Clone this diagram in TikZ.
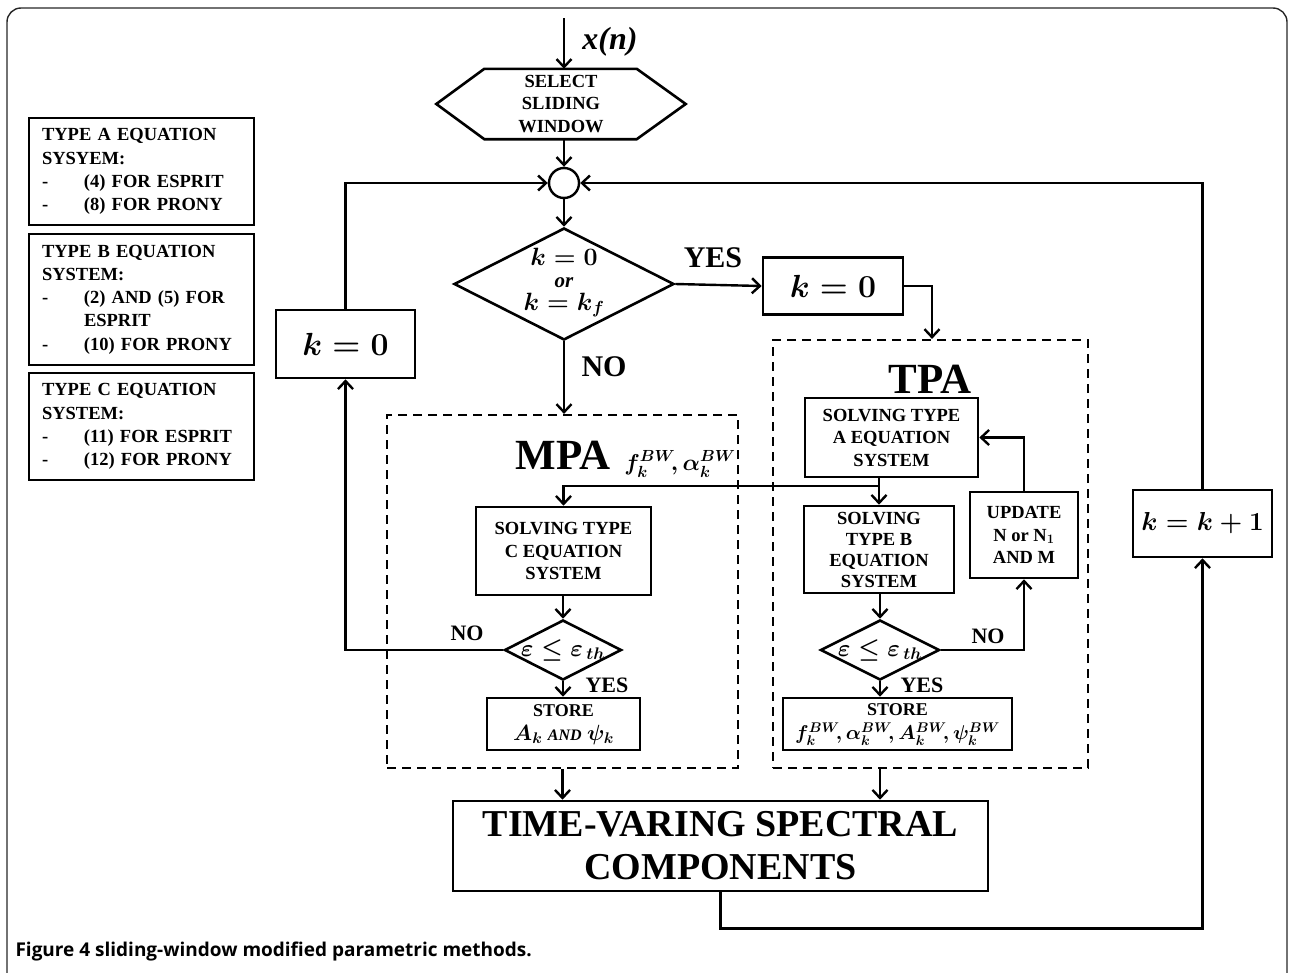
\RequirePackage{fix-cm}
\documentclass[tikz,border=0pt]{standalone}
\usepackage{amsmath,bm}
\usepackage{fontspec}
\setmainfont{Liberation Serif}
\newfontfamily\serifbi{Liberation Serif}[UprightFont=* Bold Italic]
\newfontfamily\capfont{Open Sans}
\usetikzlibrary{arrows.meta,shapes.geometric}

\newcommand{\dashitem}[1]{\makebox[42pt][l]{-}#1}

\begin{document}
\begin{tikzpicture}[x=1pt,y=-1pt,line width=2.4pt,
  blk/.style={draw,line width=2.6pt,inner sep=2pt,align=center,
    font=\fontsize{18.5}{22.5}\selectfont\bfseries\boldmath},
  kbox/.style={draw,line width=2.6pt,inner sep=2pt,
    font=\fontsize{32}{36}\selectfont\boldmath},
  dbox/.style={draw,dash pattern=on 9pt off 6pt,line width=2.2pt,inner sep=0pt},
  dia/.style={diamond,draw,inner sep=0pt,line width=2.6pt},
  arr/.style={-{Straight Barb[length=8pt,width=15pt]}},
  bigl/.style={font=\fontsize{30}{34}\selectfont\bfseries},
  midl/.style={font=\fontsize{22}{26}\selectfont\bfseries},
  title/.style={font=\fontsize{43}{48}\selectfont\bfseries},
  legend/.style={draw,line width=2pt,anchor=north west,align=left,
    text width=199pt,inner xsep=13pt,inner ysep=4pt,
    font=\fontsize{18.5}{23.3}\selectfont\bfseries},
  mathl/.style={font=\fontsize{24}{17}\selectfont\bfseries\boldmath,inner sep=0pt}]

\useasboundingbox (0,0) rectangle (1290,972);

% outer frame
\draw[line width=1.4pt,rounded corners=14pt,black!85] (7,980) -- (7,8) -- (1287,8) -- (1287,980);

% legend of the equation systems
\node[legend,minimum width=225pt,minimum height=107pt] (legA) at (28,117)
  {TYPE A EQUATION\\SYSYEM:\\\dashitem{(4) FOR ESPRIT}\\\dashitem{(8) FOR PRONY}};
\node[legend,minimum width=225pt,minimum height=131pt] (legB) at (28,233)
  {TYPE B EQUATION\\SYSTEM:\\\dashitem{(2) AND (5) FOR}\\\hspace*{42pt}ESPRIT\\\dashitem{(10) FOR PRONY}};
\node[legend,minimum width=225pt,minimum height=107pt] (legC) at (28,372)
  {TYPE C EQUATION\\SYSTEM:\\\dashitem{(11) FOR ESPRIT}\\\dashitem{(12) FOR PRONY}};

% input and window selection
\coordinate (xin) at (564,18);
\node[font=\fontsize{32}{34}\selectfont\serifbi] (xlab) at (610,42) {x(n)};
\node[inner sep=0pt,minimum width=247pt,minimum height=68pt,align=center,
  font=\fontsize{18.5}{22.5}\selectfont\bfseries] (sel) at (561,104)
  {SELECT\\SLIDING\\WINDOW};
\draw[line width=2.6pt] (sel.west) -- ([xshift=48pt]sel.north west) -- ([xshift=-49pt]sel.north east)
  -- (sel.east) -- ([xshift=-49pt]sel.south east) -- ([xshift=48pt]sel.south west) -- cycle;

% junction
\node[circle,draw,line width=2.4pt,minimum size=30pt,inner sep=0pt] (jn) at (564,183) {};

% first decision
\node[dia,minimum width=220pt,minimum height=112pt] (d1) at (564,284) {};
\node[mathl,font=\fontsize{25}{26}\selectfont\bfseries\boldmath] (d1a) at (564,257) {$k=0$};
\node[mathl,font=\fontsize{21}{22}\selectfont\serifbi] (d1b) at (564,283) {or};
\node[mathl,font=\fontsize{25}{26}\selectfont\bfseries\boldmath] (d1c) at (564,305) {$k=k_f$};
\node[bigl] (yes1) at (713,258) {YES};
\node[bigl] (no1) at (604,367) {NO};

% k = 0 boxes
\node[kbox,minimum width=140pt,minimum height=57pt] (kA) at (833,286) {$k=0$};
\node[kbox,minimum width=139pt,minimum height=68pt] (kL) at (345.5,344) {$k=0$};
\node[kbox,minimum width=139pt,minimum height=67pt,font=\fontsize{26}{30}\selectfont\boldmath] (kP) at (1202.5,523.5) {$k=k+1$};

% method frames
\node[dbox,minimum width=351pt,minimum height=353pt] (mpa) at (562.5,591.5) {};
\node[dbox,minimum width=315pt,minimum height=428pt] (tpa) at (930.5,554) {};
\node[title] (mpat) at (563,455) {MPA};
\node[title] (tpat) at (930,379) {TPA};

% TPA blocks
\node[blk,minimum width=173pt,minimum height=79pt] (sA) at (891.5,437.5) {SOLVING TYPE\\A EQUATION\\SYSTEM};
\node[blk,minimum width=150pt,minimum height=87pt,font=\fontsize{18.5}{21}\selectfont\bfseries] (sB) at (879,549.5) {SOLVING\\TYPE B\\EQUATION\\SYSTEM};
\node[blk,minimum width=108pt,minimum height=86pt] (up) at (1024,535) {UPDATE\\N or N$_{\mathbf 1}$\\AND M};
\node[dia,minimum width=119pt,minimum height=60pt] (d3) at (880,650) {};
\node[mathl] (d3t) at (880,650) {$\varepsilon\le\varepsilon_{\,th}$};
\node[blk,minimum width=229pt,minimum height=52pt,inner sep=0pt] (st2) at (897.5,724) {};
\node[font=\fontsize{18}{20}\selectfont\bfseries,inner sep=0pt] (st2a) at (897.5,710) {STORE};
\node[font=\fontsize{20}{22}\selectfont\bfseries\boldmath,inner sep=0pt] (st2b) at (897.5,734)
  {$f_k^{BW}\!,\alpha_k^{BW}\!,A_k^{BW}\!,\psi_k^{BW}$};
\node[midl] (no3) at (988,636) {NO};
\node[midl] (yes3) at (922,685) {YES};

% MPA blocks
\node[blk,minimum width=175pt,minimum height=88pt] (sC) at (563.5,551) {SOLVING TYPE\\C EQUATION\\SYSTEM};
\node[dia,minimum width=117pt,minimum height=60pt] (d2) at (563,650) {};
\node[mathl] (d2t) at (563,650) {$\varepsilon\le\varepsilon_{\,th}$};
\node[blk,minimum width=153pt,minimum height=52pt,inner sep=0pt] (st1) at (563.5,724) {};
\node[font=\fontsize{18}{20}\selectfont\bfseries,inner sep=0pt] (st1a) at (563.5,711) {STORE};
\node[font=\fontsize{22}{24}\selectfont\bfseries\boldmath,inner sep=0pt] (st1b) at (563.5,735)
  {$A_k$ {\fontsize{16}{18}\selectfont\serifbi AND} $\psi_k$};
\node[midl] (no2) at (467,633) {NO};
\node[midl] (yes2) at (607,685) {YES};
\node[font=\fontsize{23}{26}\selectfont\bfseries\boldmath] (fab) at (680,464) {$f_k^{BW}\!,\alpha_k^{BW}$};

% output block
\node[blk,minimum width=535pt,minimum height=90pt,font=\fontsize{38}{43}\selectfont\bfseries] (fin) at (720.5,846)
  {TIME-VARING SPECTRAL\\COMPONENTS};

% connectors
\draw[arr] (xin) -- (xin |- sel.north);
\draw[arr] (sel.south -| jn) -- (jn.north);
\draw[arr] (jn.south) -- (d1.north);
\draw[arr] (d1.east) -- (kA.west);
\draw[arr] (kA.east) -| (tpa.north -| 932,0);
\draw[arr] (d1.south) -- (d1.south |- mpa.north);

\coordinate (br) at (sB.north |- 0,486);
\draw (sA.south -| br) -- (br);
\draw[arr] (br) -- (sB.north);
\draw[arr] (br) -| (sC.north);

\draw[arr] (sC.south -| d2) -- (d2.north);
\draw[arr] (d2.west) -| (kL.south);
\draw[arr] (kL.north) |- (jn.west);
\draw[arr] (d2.south) -- (d2.south |- st1.north);

\draw[arr] (sB.south -| d3) -- (d3.north);
\draw[arr] (d3.east) -| (up.south);
\draw[arr] (up.north) |- (sA.east);
\draw[arr] (d3.south) -- (d3.south |- st2.north);

\draw[arr] (mpa.south) -- (mpa.south |- fin.north);
\draw[arr] (d3.south |- tpa.south) -- (d3.south |- fin.north);
\draw[arr] (fin.south) -- ++(0,36) -| (kP.south);
\draw[arr] (kP.north) |- (jn.east);

% caption
\node[anchor=west,font=\capfont\fontsize{19}{22}\selectfont\bfseries] (cap) at (11,951)
  {Figure 4 sliding-window modified parametric methods.};
\end{tikzpicture}
\end{document}
